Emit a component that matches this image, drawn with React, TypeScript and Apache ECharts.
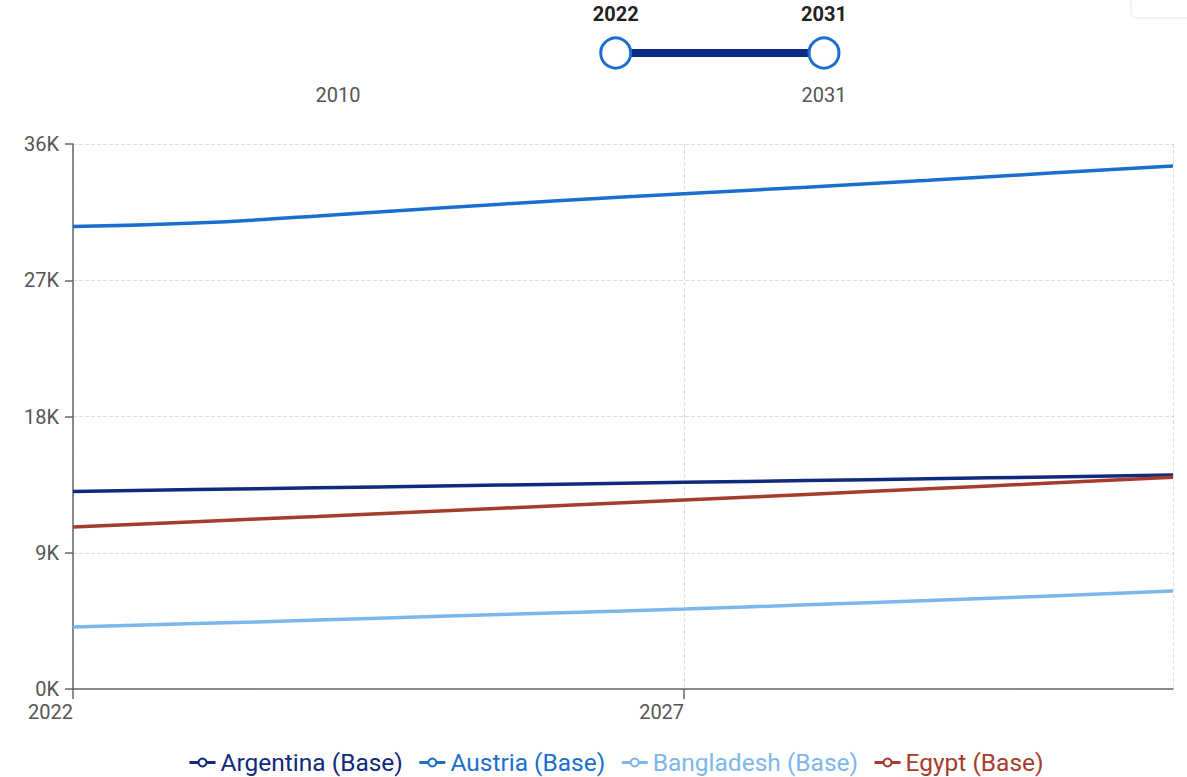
import React, { useEffect, useRef } from "react";
import * as echarts from "echarts";

const years = [2022, 2023, 2024, 2025, 2026, 2027, 2028, 2029, 2030, 2031];
const argentina = [13050, 13170, 13290, 13410, 13530, 13650, 13770, 13890, 14010, 14130];
const austria = [30550, 30780, 31250, 31780, 32260, 32720, 33150, 33600, 34080, 34550];
const bangladesh = [4100, 4320, 4550, 4800, 5040, 5280, 5560, 5840, 6150, 6470];
const egypt = [10700, 11050, 11400, 11760, 12120, 12480, 12850, 13230, 13600, 13980];

const seriesNames = ["Argentina (Base)", "Austria (Base)", "Bangladesh (Base)", "Egypt (Base)"];
const seriesColors = ["#0f2a7e", "#1a6fce", "#7cb7ec", "#a63c2c"];
const seriesValues = [argentina, austria, bangladesh, egypt];

const rangeBounds = [2010, 2031];
const selectedRange = [2022, 2031];

export default function App() {
  const ref = useRef<HTMLDivElement>(null);
  useEffect(() => {
    document.body.style.margin = "0";
    const chart = echarts.init(ref.current!, null, { renderer: "svg" });
    const font = "Roboto, 'Noto Sans', sans-serif";
    const lineSeries = seriesNames.map((name, i) => ({
      name,
      type: "line",
      xAxisIndex: 0,
      yAxisIndex: 0,
      smooth: 0.5,
      showSymbol: false,
      symbol: "emptyCircle",
      symbolSize: 8,
      color: seriesColors[i],
      lineStyle: { width: 3.5, color: seriesColors[i] },
      data: years.map((y, j) => [y, seriesValues[i][j]]),
    }));
    chart.setOption({
      animation: false,
      textStyle: { fontFamily: font },
      grid: [
        { left: 73, right: 14, top: 144, bottom: 88 },
        { left: 338, right: 363, top: 52, height: 2 },
      ],
      legend: {
        data: seriesNames.map((n, i) => ({ name: n, textStyle: { color: seriesColors[i] } })),
        left: 183,
        top: 745,
        itemWidth: 26,
        itemHeight: 10,
        itemGap: 15,
        lineStyle: { width: 3 },
        itemStyle: { borderWidth: 2.5 },
        textStyle: { fontSize: 24.5, fontFamily: font },
        selectedMode: false,
      },
      xAxis: [
        {
          type: "value",
          gridIndex: 0,
          min: 2022,
          max: 2031,
          interval: 5,
          axisLine: { show: true, lineStyle: { color: "#666", width: 1.5 } },
          axisTick: { show: true, length: 10, lineStyle: { color: "#666", width: 1.5 } },
          axisLabel: {
            color: "#555",
            fontSize: 20,
            margin: 13,
            align: "right",
            showMaxLabel: false,
            formatter: (v: number) => String(v),
          },
          splitLine: { show: true, lineStyle: { color: "#ddd", type: "dashed" } },
        },
        {
          type: "value",
          gridIndex: 1,
          min: rangeBounds[0],
          max: rangeBounds[1],
          interval: rangeBounds[1] - rangeBounds[0],
          axisLine: { show: false },
          axisTick: { show: false },
          splitLine: { show: false },
          axisLabel: {
            color: "#555",
            fontSize: 20,
            margin: 31,
            formatter: (v: number) => String(v),
          },
        },
      ],
      yAxis: [
        {
          type: "value",
          gridIndex: 0,
          min: 0,
          max: 36000,
          interval: 9000,
          axisLine: { show: true, lineStyle: { color: "#666", width: 1.5 } },
          axisTick: { show: true, length: 8, lineStyle: { color: "#666", width: 1.5 } },
          axisLabel: {
            color: "#555",
            fontSize: 20,
            margin: 14,
            formatter: (v: number) => v / 1000 + "K",
          },
          splitLine: { show: true, lineStyle: { color: "#ddd", type: "dashed" } },
        },
        { type: "value", gridIndex: 1, min: -1, max: 1, show: false },
      ],
      series: [
        ...lineSeries,
        {
          name: "range",
          type: "line",
          xAxisIndex: 1,
          yAxisIndex: 1,
          symbol: "circle",
          symbolSize: 30,
          silent: true,
          lineStyle: { width: 8, color: "#0a2a84" },
          itemStyle: { color: "#fff", borderColor: "#1a6fce", borderWidth: 3 },
          label: {
            show: true,
            position: "top",
            distance: 13,
            fontSize: 20,
            fontWeight: "bold",
            color: "#222",
            formatter: (p: any) => String(p.value[0]),
          },
          data: selectedRange.map((y) => [y, 0]),
        },
      ],
      graphic: [
        {
          type: "rect",
          shape: { x: 1131, y: -12, width: 70, height: 30, r: 6 },
          style: { fill: "#fff", stroke: "#eee", lineWidth: 1.5 },
          silent: true,
        },
      ],
    });
    return () => chart.dispose();
  }, []);
  return <div ref={ref} style={{ width: 1187, height: 777 }} />;
}
